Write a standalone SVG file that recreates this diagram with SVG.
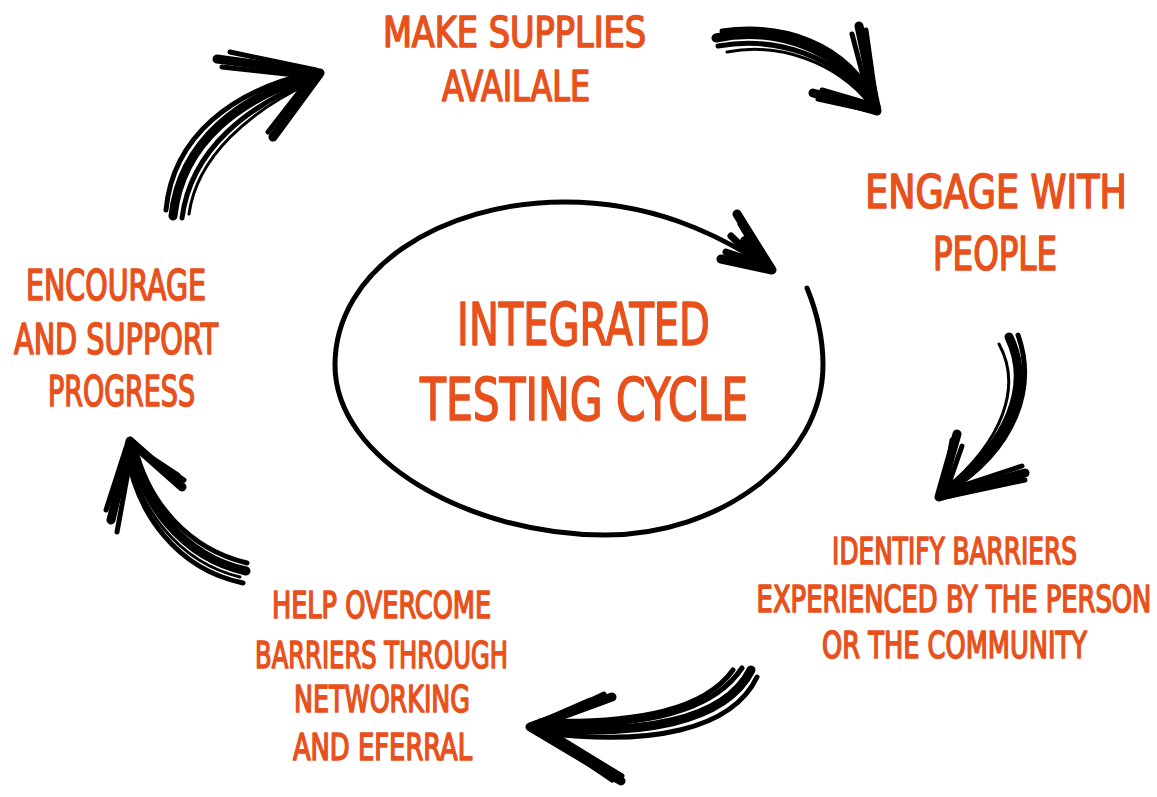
<svg xmlns="http://www.w3.org/2000/svg" width="1157" height="797" viewBox="0 0 1157 797">
<style>
.lbl{font-family:"Liberation Sans Narrow","DejaVu Sans Condensed","Liberation Sans",sans-serif;fill:#E8511C;stroke:#E8511C;stroke-width:1.6;stroke-linejoin:round;stroke-linecap:round;text-anchor:middle}
.s42{font-size:42px}.s46{font-size:46px}.s58{font-size:58px}.s37{font-size:37px}
.sk{fill:none;stroke:#000;stroke-linecap:round;stroke-linejoin:round}
.w9{stroke-width:9}.w7{stroke-width:7}.w5{stroke-width:5}.w3{stroke-width:3}
</style>
<rect width="1157" height="797" fill="#fff"/>
<g id="connectors">
  <g id="cycle">
    <path class="sk" stroke-width="5" d="M 807 288 C 816 310 823 335 823 365 C 823 460 720 535 605 535 C 470 535 335 460 335 365 C 335 270 440 202 565 202 C 650 202 715 232 770 268"/>
    <path class="sk w9" d="M 737 214 L 772 270 L 721 259"/>
    <path class="sk w7" d="M 741 224 L 766 266 M 731 236 L 762 266 M 726 252 L 768 266 M 744 240 L 768 268"/>
  </g>
  <g id="arrow-top-right">
    <path class="sk w9" d="M 716 38 C 772 26 842 45 875 108"/>
    <path class="sk w5" d="M 718 46 C 776 36 838 55 872 106"/>
    <path class="sk w3" d="M 727 52 C 780 42 836 62 870 104"/>
    <path class="sk w5" d="M 722 31 C 780 23 846 40 878 106"/>
    <path class="sk w9" d="M 859 26 L 877 111 L 813 93"/>
    <path class="sk w5" d="M 866 30 L 877 108 M 852 34 L 871 106 M 818 99 L 873 111 M 822 90 L 870 104"/>
  </g>
  <g id="arrow-right">
    <path class="sk w9" d="M 1009 337 C 1032 384 1012 444 942 494"/>
    <path class="sk w5" d="M 1018 335 C 1036 386 1018 448 946 493"/>
    <path class="sk w3" d="M 999 344 C 1022 386 1004 440 944 490"/>
    <path class="sk w9" d="M 957 434 L 939 497 L 1025 473"/>
    <path class="sk w5" d="M 952 440 L 943 492 M 962 446 L 946 492 M 946 491 L 1022 466 M 950 496 L 1025 480"/>
  </g>
  <g id="arrow-bottom">
    <path class="sk w9" d="M 751 670 C 725 722 640 737 532 727"/>
    <path class="sk w5" d="M 742 668 C 712 713 640 729 536 723"/>
    <path class="sk w5" d="M 733 670 C 705 709 640 724 540 721"/>
    <path class="sk w5" d="M 757 677 C 732 730 650 746 545 733"/>
    <path class="sk w9" d="M 612 697 L 530 727 L 621 781"/>
    <path class="sk w5" d="M 604 694 L 540 724 M 590 700 L 535 724 M 540 731 L 612 780 M 550 732 L 622 776"/>
  </g>
  <g id="arrow-left">
    <path class="sk w9" d="M 246 571 C 182 557 142 502 131 445"/>
    <path class="sk w5" d="M 247 563 C 188 549 148 502 135 447"/>
    <path class="sk w5" d="M 243 583 C 176 569 136 512 127 452"/>
    <path class="sk w3" d="M 240 577 C 178 562 138 508 128 450"/>
    <path class="sk w9" d="M 111 520 L 130 441 L 182 487"/>
    <path class="sk w5" d="M 117 532 L 132 450 M 106 510 L 126 448 M 178 475 L 134 446 M 184 480 L 140 450"/>
  </g>
  <g id="arrow-top-left">
    <path class="sk w9" d="M 173 216 C 181 142 240 96 317 75"/>
    <path class="sk w5" d="M 182 218 C 191 149 248 105 315 79"/>
    <path class="sk w5" d="M 166 210 C 173 136 232 91 311 73"/>
    <path class="sk w3" d="M 189 214 C 197 156 250 111 310 83"/>
    <path class="sk w9" d="M 217 59 L 320 73 L 273 137"/>
    <path class="sk w5" d="M 222 67 L 314 77 M 230 52 L 316 70 M 281 129 L 316 80 M 268 132 L 310 78"/>
  </g>
</g>
<g id="node-center">
  <text class="lbl s58" transform="translate(583.5 345) scale(0.8 1)" textLength="316" lengthAdjust="spacingAndGlyphs">INTEGRATED</text>
  <text class="lbl s58" transform="translate(584 420) scale(0.8 1)" textLength="410" lengthAdjust="spacingAndGlyphs">TESTING CYCLE</text>
</g>
<g id="node-supplies">
  <text class="lbl s42" transform="translate(514.5 47) scale(0.8 1)" textLength="329" lengthAdjust="spacingAndGlyphs">MAKE  SUPPLIES</text>
  <text class="lbl s42" transform="translate(516 101) scale(0.8 1)" textLength="185" lengthAdjust="spacingAndGlyphs">AVAILALE</text>
</g>
<g id="node-engage">
  <text class="lbl s46" transform="translate(996 208) scale(0.8 1)" textLength="327" lengthAdjust="spacingAndGlyphs">ENGAGE  WITH</text>
  <text class="lbl s46" transform="translate(995 270) scale(0.8 1)" textLength="155" lengthAdjust="spacingAndGlyphs">PEOPLE</text>
</g>
<g id="node-identify">
  <text class="lbl s37" transform="translate(954.5 564) scale(0.8 1)" textLength="306" lengthAdjust="spacingAndGlyphs">IDENTIFY BARRIERS</text>
  <text class="lbl s37" transform="translate(954 612) scale(0.7 1)" textLength="564" lengthAdjust="spacingAndGlyphs">EXPERIENCED BY THE PERSON</text>
  <text class="lbl s37" transform="translate(954.5 658) scale(0.8 1)" textLength="331" lengthAdjust="spacingAndGlyphs">OR THE COMMUNITY</text>
</g>
<g id="node-help">
  <text class="lbl s37" transform="translate(381.5 618) scale(0.8 1)" textLength="274" lengthAdjust="spacingAndGlyphs">HELP OVERCOME</text>
  <text class="lbl s37" transform="translate(381.5 668) scale(0.8 1)" textLength="316" lengthAdjust="spacingAndGlyphs">BARRIERS THROUGH</text>
  <text class="lbl s37" transform="translate(382 712) scale(0.8 1)" textLength="220" lengthAdjust="spacingAndGlyphs">NETWORKING</text>
  <text class="lbl s37" transform="translate(382.5 760) scale(0.8 1)" textLength="224" lengthAdjust="spacingAndGlyphs">AND EFERRAL</text>
</g>
<g id="node-encourage">
  <text class="lbl s42" transform="translate(116 300) scale(0.8 1)" textLength="225" lengthAdjust="spacingAndGlyphs">ENCOURAGE</text>
  <text class="lbl s42" transform="translate(116 354) scale(0.8 1)" textLength="255" lengthAdjust="spacingAndGlyphs">AND SUPPORT</text>
  <text class="lbl s42" transform="translate(121.5 406) scale(0.8 1)" textLength="184" lengthAdjust="spacingAndGlyphs">PROGRESS</text>
</g>
</svg>
